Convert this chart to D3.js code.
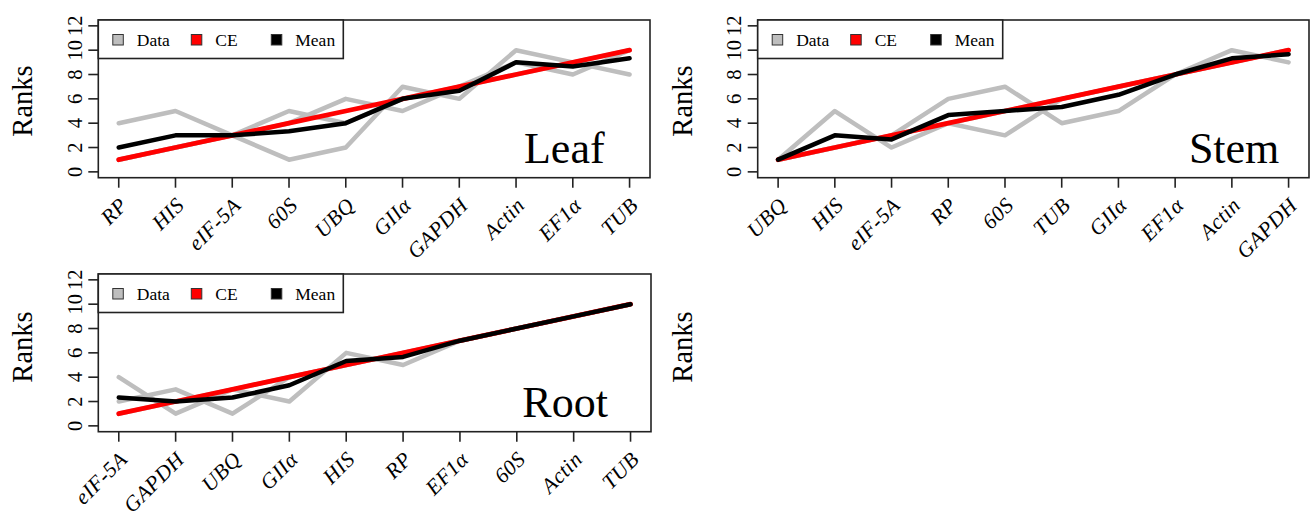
<!DOCTYPE html>
<html>
<head>
<meta charset="utf-8">
<script src="https://cdn.jsdelivr.net/npm/d3@7"></script>
<style>
  body { margin: 0; background: #fff; }
  text { font-family: "Liberation Serif", "Times New Roman", serif; }
</style>
</head>
<body>
<script>
// #region DATA
// ranks of each gene from the three stability methods (gray "Data" lines)
const leafGenes = ["RP", "HIS", "eIF-5A", "60S", "UBQ", "GIIα", "GAPDH", "Actin", "EF1α", "TUB"];
const leafRanks = [
    [4, 5, 3, 1, 2, 7, 6, 10, 9, 8],
    [1, 2, 3, 5, 4, 6, 7, 9, 8, 10],
    [1, 2, 3, 4, 6, 5, 7, 8, 9, 10]
];

const stemGenes = ["UBQ", "HIS", "eIF-5A", "RP", "60S", "TUB", "GIIα", "EF1α", "Actin", "GAPDH"];
const stemRanks = [
    [1, 5, 2, 4, 3, 6, 7, 8, 10, 9],
    [1, 2, 3, 4, 5, 6, 7, 8, 9, 10],
    [1, 2, 3, 6, 7, 4, 5, 8, 9, 10]
];

const rootGenes = ["eIF-5A", "GAPDH", "UBQ", "GIIα", "HIS", "RP", "EF1α", "60S", "Actin", "TUB"];
const rootRanks = [
    [4, 1, 3, 2, 6, 5, 7, 8, 9, 10],
    [1, 2, 3, 4, 5, 6, 7, 8, 9, 10],
    [2, 3, 1, 4, 5, 6, 7, 8, 9, 10]
];

// consensus (CE) ranks, same for every tissue
const ceRanks = [1, 2, 3, 4, 5, 6, 7, 8, 9, 10];

const yTicks = [0, 2, 4, 6, 8, 10, 12];
const legendLabels = ["Data", "CE", "Mean"];
const legendColors = ["#bebebe", "#ff0000", "#000000"];
// #endregion

// #region SETUP
var svg = d3.select("body")
    .append("svg")
    .attr("width", 1312)
    .attr("height", 518);

svg.append("rect")
    .attr("width", 1312)
    .attr("height", 518)
    .attr("fill", "#fff");

var panels = [
    {name: "Leaf", genes: leafGenes, ranks: leafRanks, left: 98.3, top: 20, right: 650, bottom: 177.7, labelX: 8.85},
    {name: "Stem", genes: stemGenes, ranks: stemRanks, left: 757.7, top: 20, right: 1309, bottom: 177.7, labelX: 9.04},
    {name: "Root", genes: rootGenes, ranks: rootRanks, left: 98.3, top: 274, right: 651, bottom: 431.7, labelX: 8.85}
];
// #endregion

// #region PANELS
panels.forEach(function(p) {
    var g = svg.append("g").attr("class", "panel");

    var x = d3.scaleLinear().domain([0.64, 10.36]).range([p.left, p.right]);
    var y = d3.scaleLinear().domain([-0.48, 12.48]).range([p.bottom, p.top]);

    var line = d3.line()
        .x((d, i) => x(i + 1))
        .y(d => y(d));

    // gray lines for every method
    g.append("g")
        .selectAll("path")
        .data(p.ranks)
        .enter()
        .append("path")
            .attr("d", line)
            .attr("fill", "none")
            .attr("stroke", legendColors[0])
            .attr("stroke-width", 4.5)
            .attr("stroke-linejoin", "round")
            .attr("stroke-linecap", "round");

    // CE
    g.append("path")
        .attr("d", line(ceRanks))
        .attr("fill", "none")
        .attr("stroke", legendColors[1])
        .attr("stroke-width", 4.8)
        .attr("stroke-linejoin", "round")
        .attr("stroke-linecap", "round");

    // mean of the methods
    var means = p.genes.map((gene, i) => d3.mean(p.ranks, r => r[i]));
    g.append("path")
        .attr("d", line(means))
        .attr("fill", "none")
        .attr("stroke", legendColors[2])
        .attr("stroke-width", 4.5)
        .attr("stroke-linejoin", "round")
        .attr("stroke-linecap", "round");

    // box
    g.append("rect")
        .attr("x", p.left)
        .attr("y", p.top)
        .attr("width", p.right - p.left)
        .attr("height", p.bottom - p.top)
        .attr("fill", "none")
        .attr("stroke", "#222")
        .attr("stroke-width", 1.6);

    // y axis (rotated tick labels like R)
    var yAxis = g.append("g");
    yAxis.selectAll("line")
        .data(yTicks)
        .enter()
        .append("line")
            .attr("x1", p.left - 10)
            .attr("x2", p.left)
            .attr("y1", d => y(d))
            .attr("y2", d => y(d))
            .attr("stroke", "#222")
            .attr("stroke-width", 1.6);
    yAxis.selectAll("text")
        .data(yTicks)
        .enter()
        .append("text")
            .text(d => d)
            .attr("transform", d => "translate(" + (p.left - 16.5) + "," + y(d) + ") rotate(-90)")
            .attr("text-anchor", "middle")
            .attr("font-size", "20.5px");

    // x axis
    var xAxis = g.append("g");
    xAxis.selectAll("line")
        .data(p.genes)
        .enter()
        .append("line")
            .attr("x1", (d, i) => x(i + 1))
            .attr("x2", (d, i) => x(i + 1))
            .attr("y1", p.bottom)
            .attr("y2", p.bottom + 10)
            .attr("stroke", "#222")
            .attr("stroke-width", 1.6);
    xAxis.selectAll("text")
        .data(p.genes)
        .enter()
        .append("text")
            .text(d => d)
            .attr("transform", (d, i) => "translate(" + (x(i + 1) + 5) + "," + (p.bottom + 24) + ") rotate(-45)")
            .attr("text-anchor", "end")
            .attr("dominant-baseline", "central")
            .attr("font-style", "italic")
            .attr("letter-spacing", "0.5px")
            .attr("font-size", "21.5px");

    // tissue label
    g.append("text")
        .text(p.name)
        .attr("x", x(p.labelX))
        .attr("y", p.bottom - 15)
        .attr("text-anchor", "middle")
        .attr("font-size", "44px");

    // legend
    var leg = g.append("g");
    leg.append("rect")
        .attr("x", p.left)
        .attr("y", p.top)
        .attr("width", 245)
        .attr("height", 38.5)
        .attr("fill", "#fff")
        .attr("stroke", "#222")
        .attr("stroke-width", 1.6);
    var legX = [14.5, 93, 173];
    legendLabels.forEach(function(lab, i) {
        leg.append("rect")
            .attr("x", p.left + legX[i])
            .attr("y", p.top + 14.5)
            .attr("width", 10.5)
            .attr("height", 10.5)
            .attr("fill", legendColors[i])
            .attr("stroke", "#333")
            .attr("stroke-width", 1);
        leg.append("text")
            .text(lab)
            .attr("x", p.left + legX[i] + 24)
            .attr("y", p.top + 26)
            .attr("font-size", "17.5px");
    });
});
// #endregion

// #region Y LABELS
var ranksLabels = [
    {x: 32, y: 101},
    {x: 691.7, y: 101},
    {x: 32, y: 347},
    {x: 691.7, y: 347}
];
svg.append("g")
    .selectAll("text")
    .data(ranksLabels)
    .enter()
    .append("text")
        .text("Ranks")
        .attr("transform", d => "translate(" + d.x + "," + d.y + ") rotate(-90)")
        .attr("text-anchor", "middle")
        .attr("font-size", "28.5px");
// #endregion
</script>
</body>
</html>
